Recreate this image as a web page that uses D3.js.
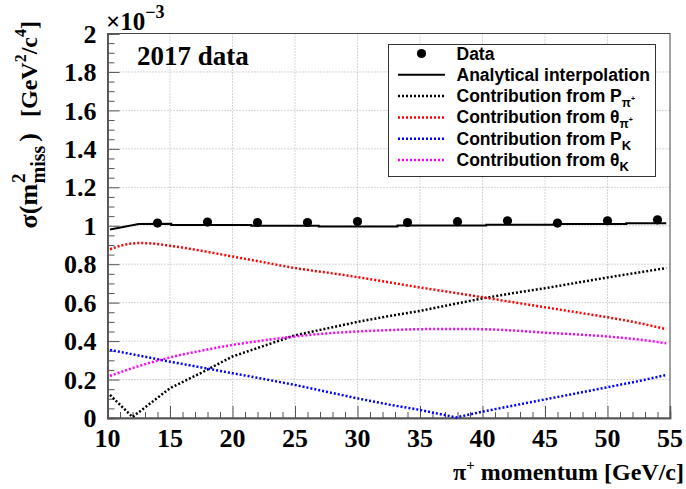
<!DOCTYPE html>
<html>
<head>
<meta charset="utf-8">
<script src="https://cdn.jsdelivr.net/npm/d3@7"></script>
<style>
  body { margin: 0; background: #fff; }
  svg { display: block; }
  .serif { font-family: "Liberation Serif", "DejaVu Serif", serif; font-weight: bold; fill: #000; }
  .sans { font-family: "Liberation Sans", Arial, sans-serif; font-weight: bold; fill: #000; }
</style>
</head>
<body>
<svg id="chart" width="686" height="489"></svg>
<script>

// ---- data (sigma in units of 1e-3 GeV^2/c^4) ----
var xTicks = [10, 15, 20, 25, 30, 35, 40, 45, 50, 55];
var yTicks = [0, 0.2, 0.4, 0.6, 0.8, 1, 1.2, 1.4, 1.6, 1.8, 2];
var yTickLabels = ["0", "0.2", "0.4", "0.6", "0.8", "1", "1.2", "1.4", "1.6", "1.8", "2"];

var dataX = [14, 18, 22, 26, 30, 34, 38, 42, 46, 50, 54];
var dataY = [1.014, 1.019, 1.017, 1.017, 1.022, 1.017, 1.021, 1.026, 1.014, 1.026, 1.031];

var interpX = [10.2, 12.5, 15.1, 15.1, 21.5, 21.5, 26.9, 26.9, 33.2, 33.2, 40.3, 40.3, 45.7, 45.7, 51.5, 51.5, 54.7];
var interpY = [0.981, 1.009, 1.010, 1.004, 1.004, 1.000, 1.000, 0.996, 0.996, 1.001, 1.001, 1.005, 1.005, 1.009, 1.009, 1.013, 1.013];

var pPiX = [10.2, 12.0, 15, 17.5, 20, 22.5, 25, 27.5, 30, 32.5, 35, 37.5, 40, 42.5, 45, 47.5, 50, 52.5, 54.7];
var pPiY = [0.12, 0.005, 0.155, 0.235, 0.32, 0.375, 0.43, 0.465, 0.50, 0.53, 0.557, 0.59, 0.622, 0.65, 0.675, 0.703, 0.731, 0.757, 0.78];

var thPiX = [10.2, 11.5, 12.6, 13.5, 15, 17.5, 20, 22.5, 25, 27.5, 30, 32.5, 35, 37.5, 40, 42.5, 45, 47.5, 50, 52.5, 54.7];
var thPiY = [0.878, 0.903, 0.91, 0.908, 0.896, 0.87, 0.84, 0.81, 0.78, 0.757, 0.733, 0.706, 0.679, 0.654, 0.628, 0.602, 0.576, 0.55, 0.524, 0.494, 0.462];

var pKX = [10.2, 12.5, 15, 17.5, 20, 22.5, 25, 27.5, 30, 32.5, 35, 37.9, 40, 42.5, 45, 47.5, 50, 52.5, 54.7];
var pKY = [0.354, 0.325, 0.293, 0.263, 0.233, 0.203, 0.172, 0.137, 0.102, 0.07, 0.042, 0.003, 0.033, 0.065, 0.097, 0.128, 0.16, 0.192, 0.224];

var thKX = [10.2, 12.5, 15, 17.5, 20, 22.5, 25, 27.5, 30, 32.5, 35, 37.5, 40, 42.5, 45, 47.5, 50, 52.5, 54.7];
var thKY = [0.219, 0.27, 0.315, 0.35, 0.38, 0.404, 0.424, 0.44, 0.45, 0.457, 0.462, 0.463, 0.462, 0.455, 0.444, 0.435, 0.424, 0.408, 0.389];

// ---- layout ----
var svg = d3.select("#chart");
var pLeft = 107.5, pRight = 670, pTop = 33.5, pBottom = 418;

var x = d3.scaleLinear().domain([10, 55]).range([pLeft, pRight]);
var y = d3.scaleLinear().domain([0, 2]).range([pBottom, pTop]);

// grid
var grid = svg.append("g");
grid.selectAll("line.gx")
  .data(xTicks.slice(1, -1))
  .enter().append("line")
    .attr("x1", function(d) { return x(d); })
    .attr("x2", function(d) { return x(d); })
    .attr("y1", pTop).attr("y2", pBottom)
    .style("stroke", "#aaa").style("stroke-dasharray", "1,2");
grid.selectAll("line.gy")
  .data(yTicks.slice(1, -1))
  .enter().append("line")
    .attr("y1", function(d) { return y(d); })
    .attr("y2", function(d) { return y(d); })
    .attr("x1", pLeft).attr("x2", pRight)
    .style("stroke", "#aaa").style("stroke-dasharray", "1,2");

// frame
svg.append("rect")
  .attr("x", pLeft).attr("y", pTop)
  .attr("width", pRight - pLeft).attr("height", pBottom - pTop)
  .style("fill", "none").style("stroke", "#444").style("stroke-width", 1);

// x axis ticks (inside, pointing up)
var xMinor = d3.range(10, 56, 1).filter(function(d) { return d % 5 != 0; });
var xAxisMajor = d3.axisBottom(x).tickValues(xTicks).tickSize(-12).tickFormat("");
var xAxisMinor = d3.axisBottom(x).tickValues(xMinor).tickSize(-6).tickFormat("");
var gx = svg.append("g").attr("transform", "translate(0," + pBottom + ")");
gx.call(xAxisMajor);
gx.append("g").call(xAxisMinor);
gx.selectAll(".domain").style("stroke", "#555").style("stroke-width", 1.5);
gx.selectAll(".tick line").style("stroke", "#555");

gx.selectAll("text.xl")
  .data(xTicks)
  .enter().append("text")
    .attr("class", "serif xl")
    .attr("x", function(d) { return x(d); })
    .attr("y", 29)
    .attr("text-anchor", "middle")
    .style("font-size", "26px")
    .text(function(d) { return d; });

// y axis ticks (inside, pointing right)
var yMinor = d3.range(0, 41).map(function(i) { return i * 0.05; }).filter(function(d, i) { return i % 4 != 0; });
var yAxisMajor = d3.axisLeft(y).tickValues(yTicks).tickSize(-12).tickFormat("");
var yAxisMinor = d3.axisLeft(y).tickValues(yMinor).tickSize(-7).tickFormat("");
var gy = svg.append("g").attr("transform", "translate(" + pLeft + ",0)");
gy.call(yAxisMajor);
gy.append("g").call(yAxisMinor);
gy.selectAll(".domain").style("stroke", "#555").style("stroke-width", 1.5);
gy.selectAll(".tick line").style("stroke", "#555");

gy.selectAll("text.yl")
  .data(yTicks)
  .enter().append("text")
    .attr("class", "serif yl")
    .attr("x", -11)
    .attr("y", function(d) { return y(d); })
    .attr("dy", "0.35em")
    .attr("text-anchor", "end")
    .style("font-size", "26px")
    .text(function(d, i) { return yTickLabels[i]; });

// x10^-3
var mult = svg.append("text").attr("class", "serif")
  .attr("x", 106).attr("y", 30).style("font-size", "25px");
mult.append("tspan").text("\u00d710");
mult.append("tspan").attr("dy", -12).style("font-size", "18px").text("\u22123");

// axis titles
var xt = svg.append("text").attr("class", "serif")
  .attr("x", 684).attr("y", 480)
  .attr("text-anchor", "end")
  .style("font-size", "24px");
xt.append("tspan").text("\u03c0");
xt.append("tspan").attr("dy", -10).style("font-size", "15px").text("+");
xt.append("tspan").attr("dy", 10).text(" momentum [GeV/c]");

var yt = svg.append("text").attr("class", "serif")
  .attr("transform", "translate(37,21) rotate(-90)")
  .attr("text-anchor", "end")
  .style("font-size", "26px");
yt.append("tspan").text("\u03c3(m");
yt.append("tspan").attr("dx", 1).attr("dy", -12).style("font-size", "19px").text("2");
yt.append("tspan").attr("dx", -10).attr("dy", 20).style("font-size", "20px").text("miss");
yt.append("tspan").attr("dx", 4).attr("dy", -8).text(")");
yt.append("tspan").attr("dx", 16).style("font-size", "24px").text("[GeV");
yt.append("tspan").attr("dy", -11).style("font-size", "16px").text("2");
yt.append("tspan").attr("dy", 11).style("font-size", "24px").text("/c");
yt.append("tspan").attr("dy", -11).style("font-size", "16px").text("4");
yt.append("tspan").attr("dy", 11).style("font-size", "24px").text("]");

svg.append("text").attr("class", "serif")
  .attr("x", 137).attr("y", 65)
  .style("font-size", "27px")
  .text("2017 data");

// ---- curves ----
function pts(xs, ys) {
  return xs.map(function(d, i) { return [d, ys[i]]; });
}

var series = [
  { xs: pPiX, ys: pPiY, color: "#000", curve: d3.curveLinear },
  { xs: thPiX, ys: thPiY, color: "#f00", curve: d3.curveMonotoneX },
  { xs: pKX, ys: pKY, color: "#00f", curve: d3.curveLinear },
  { xs: thKX, ys: thKY, color: "#f0f", curve: d3.curveMonotoneX }
];

series.forEach(function(s) {
  var line = d3.line()
    .x(function(d) { return x(d[0]); })
    .y(function(d) { return y(d[1]); })
    .curve(s.curve);
  svg.append("path")
    .datum(pts(s.xs, s.ys))
    .attr("d", line)
    .style("fill", "none")
    .style("stroke", s.color)
    .style("stroke-width", 2.5)
    .style("stroke-dasharray", "2,2");
});

var interpLine = d3.line()
  .x(function(d) { return x(d[0]); })
  .y(function(d) { return y(d[1]); });
svg.append("path")
  .datum(pts(interpX, interpY))
  .attr("d", interpLine)
  .style("fill", "none")
  .style("stroke", "#000")
  .style("stroke-width", 2);

svg.append("g")
  .selectAll("circle")
  .data(pts(dataX, dataY))
  .enter().append("circle")
    .attr("cx", function(d) { return x(d[0]); })
    .attr("cy", function(d) { return y(d[1]); })
    .attr("r", 4.6)
    .style("fill", "#000");

// ---- legend ----
var lg = svg.append("g");
lg.append("rect")
  .attr("x", 388.5).attr("y", 44.5)
  .attr("width", 267).attr("height", 132)
  .style("fill", "#fff").style("stroke", "#333").style("stroke-width", 1);

var rowY = function(i) { return 53.5 + i * 21.3; };

lg.append("circle").attr("cx", 421.5).attr("cy", rowY(0)).attr("r", 4.6).style("fill", "#000");
lg.append("line").attr("x1", 398).attr("x2", 445).attr("y1", rowY(1)).attr("y2", rowY(1))
  .style("stroke", "#000").style("stroke-width", 2);
series.forEach(function(s, i) {
  lg.append("line").attr("x1", 398).attr("x2", 445).attr("y1", rowY(i + 2)).attr("y2", rowY(i + 2))
    .style("stroke", s.color).style("stroke-width", 2.5).style("stroke-dasharray", "2,2");
});

function legText(i) {
  return lg.append("text").attr("class", "sans")
    .attr("x", 456.5).attr("y", rowY(i) + 6)
    .style("font-size", "17.5px");
}
legText(0).text("Data");
legText(1).text("Analytical interpolation");

var t2 = legText(2);
t2.append("tspan").text("Contribution from P");
t2.append("tspan").attr("dy", 5).style("font-size", "12px").text("\u03c0");
t2.append("tspan").attr("dy", -6).style("font-size", "7px").text("+");

var t3 = legText(3);
t3.append("tspan").text("Contribution from \u03b8");
t3.append("tspan").attr("dy", 5).style("font-size", "12px").text("\u03c0");
t3.append("tspan").attr("dy", -6).style("font-size", "7px").text("+");

var t4 = legText(4);
t4.append("tspan").text("Contribution from P");
t4.append("tspan").attr("dy", 5).style("font-size", "13px").text("K");

var t5 = legText(5);
t5.append("tspan").text("Contribution from \u03b8");
t5.append("tspan").attr("dy", 5).style("font-size", "13px").text("K");

</script>
</body>
</html>
